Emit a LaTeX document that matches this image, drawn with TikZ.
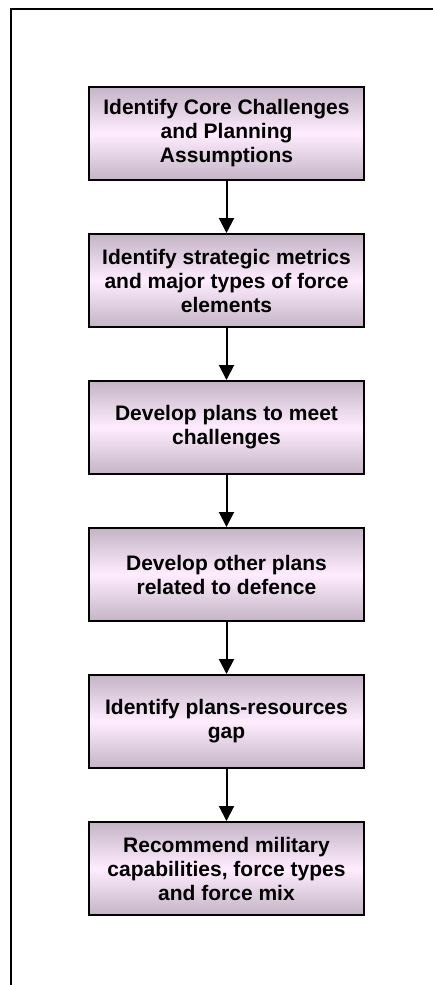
\documentclass[tikz,border=0pt]{standalone}
\usepackage{fontspec}
\setmainfont{Liberation Sans}
\usetikzlibrary{arrows.meta,positioning}
\definecolor{boxedge}{RGB}{196,180,198}
\definecolor{boxmid}{RGB}{255,236,255}
\tikzset{
  stepbox/.style={draw=black, line width=2pt, rectangle,
    top color=boxedge, bottom color=boxedge, middle color=boxmid,
    minimum width=275pt, minimum height=93pt, inner sep=0pt,
    align=center, font=\fontsize{21}{24}\selectfont\bfseries},
  flow/.style={line width=2pt, -{Triangle[length=15pt,width=15pt]}},
  frame/.style={line width=2pt, black}
}
\begin{document}
\begin{tikzpicture}[x=1pt,y=-1pt]
  \useasboundingbox (0,0) rectangle (433,985);
  % open frame running off the right and lower edges
  \draw[frame] (440,9) -- (10.5,9) -- (10.5,992);
  % process steps
  \node[stepbox] (s1) at (226.5,133.5) {Identify Core Challenges\\and Planning\\Assumptions};
  \node[stepbox] (s2) at (226.5,280.5) {Identify strategic metrics\\and major types of force\\elements};
  \node[stepbox] (s3) at (226.5,427.5) {Develop plans to meet\\challenges};
  \node[stepbox] (s4) at (226.5,574.5) {Develop other plans\\related to defence};
  \node[stepbox] (s5) at (226.5,721.5) {Identify plans-resources\\gap};
  \node[stepbox] (s6) at (226.5,868.5) {Recommend military\\capabilities, force types\\and force mix};
  % connectors
  \draw[flow] (s1) -- (s2);
  \draw[flow] (s2) -- (s3);
  \draw[flow] (s3) -- (s4);
  \draw[flow] (s4) -- (s5);
  \draw[flow] (s5) -- (s6);
\end{tikzpicture}
\end{document}
